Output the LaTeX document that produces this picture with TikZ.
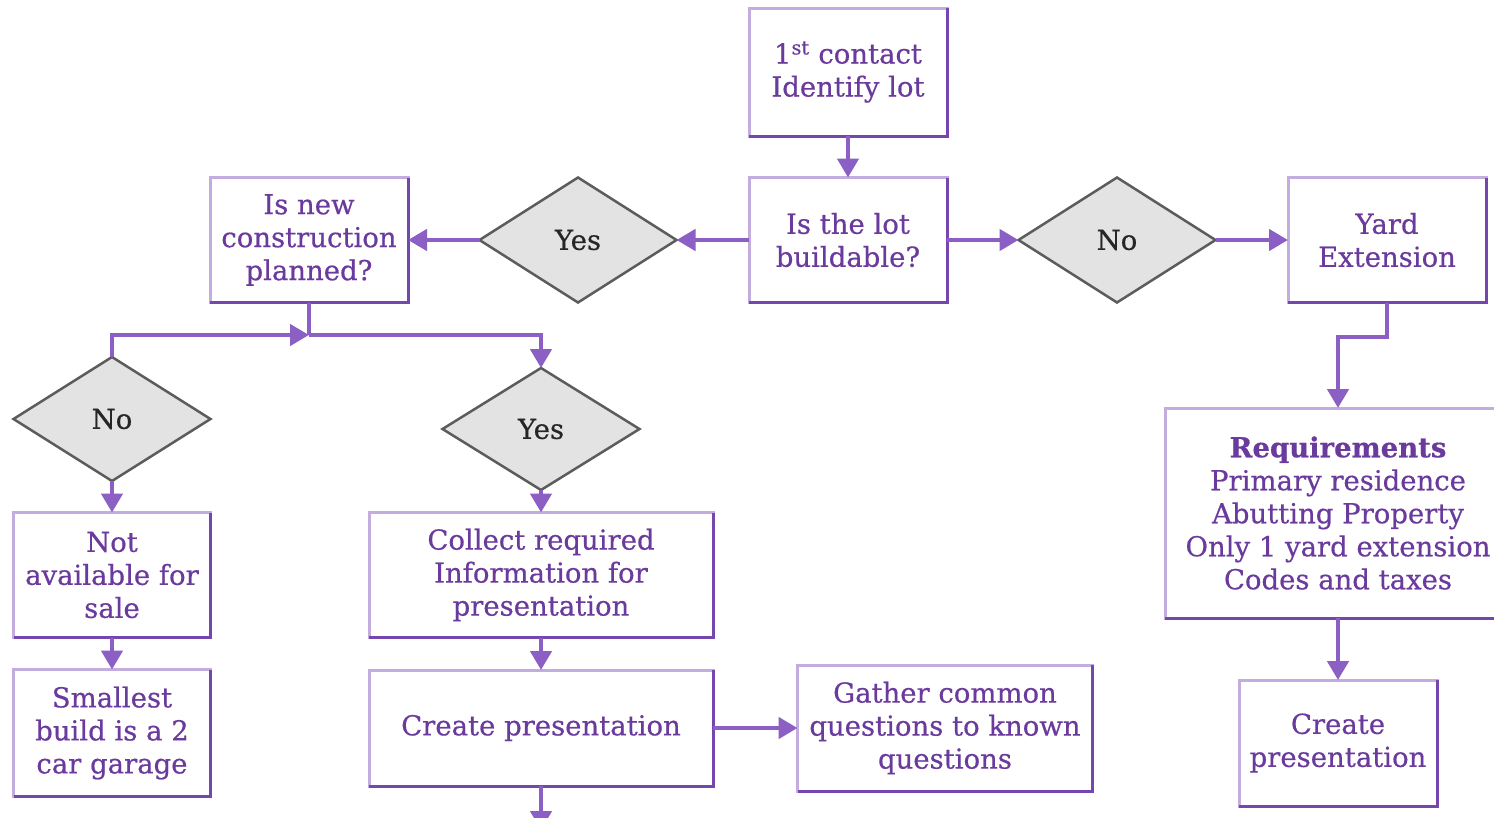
\documentclass[tikz,border=0pt]{standalone}
\usepackage{fontspec}
\setmainfont{DejaVu Serif}[FakeBold=0.5]
\usetikzlibrary{shapes.geometric,arrows.meta}
\definecolor{ptext}{HTML}{6A3A9C}
\definecolor{plight}{HTML}{C2ADDE}
\definecolor{pdark}{HTML}{7446AE}
\definecolor{parrow}{HTML}{8B5FC3}
\definecolor{dfill}{HTML}{E3E3E3}
\definecolor{dline}{HTML}{5C5C5C}
\tikzset{
 pbox/.style={draw=plight, line width=3pt, fill=white, text=ptext, align=center,
   inner sep=0pt, outer sep=0pt, font=\fontsize{27.5}{33}\selectfont},
 dec/.style={diamond, draw=dline, line width=2.5pt, fill=dfill, text=black!85,
   inner sep=0pt, outer sep=0pt, minimum width=197pt, minimum height=125pt,
   font=\fontsize{27.5}{33}\selectfont},
 arr/.style={draw=parrow, line width=4.5pt, -{Triangle[length=19pt,width=21pt]}},
 ln/.style={draw=parrow, line width=4.5pt},
 shade/.style={draw=pdark, line width=3pt},
}
\begin{document}
\begin{tikzpicture}[x=1pt,y=-1pt]
\useasboundingbox (0,0) rectangle (1494,817);
\clip (0,0) rectangle (1494,817);
\fill[white] (0,0) rectangle (1494,817);
% nodes
\node[pbox, minimum width=198pt, minimum height=128pt] (top) at (848,72) {1\textsuperscript{st} contact\\Identify lot};
\node[pbox, minimum width=198pt, minimum height=125pt] (build) at (848,240) {Is the lot\\buildable?};
\node[pbox, minimum width=198pt, minimum height=125pt] (nc) at (309,240) {Is new\\construction\\planned?};
\node[dec] (yes1) at (578,240) {Yes};
\node[dec] (no1) at (1117,240) {No};
\node[pbox, minimum width=198pt, minimum height=125pt] (yard) at (1387,240) {Yard\\Extension};
\node[dec, minimum height=124pt] (noL) at (112,419) {No};
\node[dec, minimum height=122pt] (yesM) at (541,429) {Yes};
\node[pbox, minimum width=197pt, minimum height=125pt] (na) at (112,575) {Not\\available for\\sale};
\node[pbox, minimum width=197pt, minimum height=127pt] (sb) at (112,733) {Smallest\\build is a 2\\car garage};
\node[pbox, minimum width=344pt, minimum height=125pt] (col) at (541,575) {Collect required\\Information for\\presentation};
\node[pbox, minimum width=344pt, minimum height=116pt] (cp) at (541,728) {Create presentation};
\node[pbox, minimum width=295pt, minimum height=126pt] (ga) at (945,728) {Gather common\\questions to known\\questions};
\node[pbox, minimum width=346pt, minimum height=210pt] (req) at (1338,513) {\textbf{Requirements}\\Primary residence\\Abutting Property\\Only 1 yard extension\\Codes and taxes};
\node[pbox, minimum width=198pt, minimum height=126pt] (cp2) at (1338,743) {Create\\presentation};
\foreach \n in {top,build,nc,yard,na,sb,col,cp,ga,req,cp2}
  \draw[shade] (\n.south west) -- (\n.south east) -- (\n.north east);
% connectors
\coordinate (j) at (309,335);
\coordinate (bot) at (541,830);
\coordinate (y1) at (1387,337);
\coordinate (y2) at (1338,337);
\draw[arr] (top) -- (build);
\draw[arr] (build) -- (yes1);
\draw[arr] (yes1) -- (nc);
\draw[arr] (build) -- (no1);
\draw[arr] (no1) -- (yard);
\draw[ln] (nc.south) -- (j);
\draw[arr] (noL.north) |- (j);
\draw[arr] (j) -| (yesM.north);
\draw[arr] (noL) -- (na);
\draw[arr] (na) -- (sb);
\draw[arr] (yesM) -- (col);
\draw[arr] (col) -- (cp);
\draw[arr] (cp) -- (ga);
\draw[arr] (cp.south) -- (bot);
\draw[arr] (yard.south) -- (y1) -- (y2) -- (req.north);
\draw[arr] (req) -- (cp2);
\end{tikzpicture}
\end{document}
